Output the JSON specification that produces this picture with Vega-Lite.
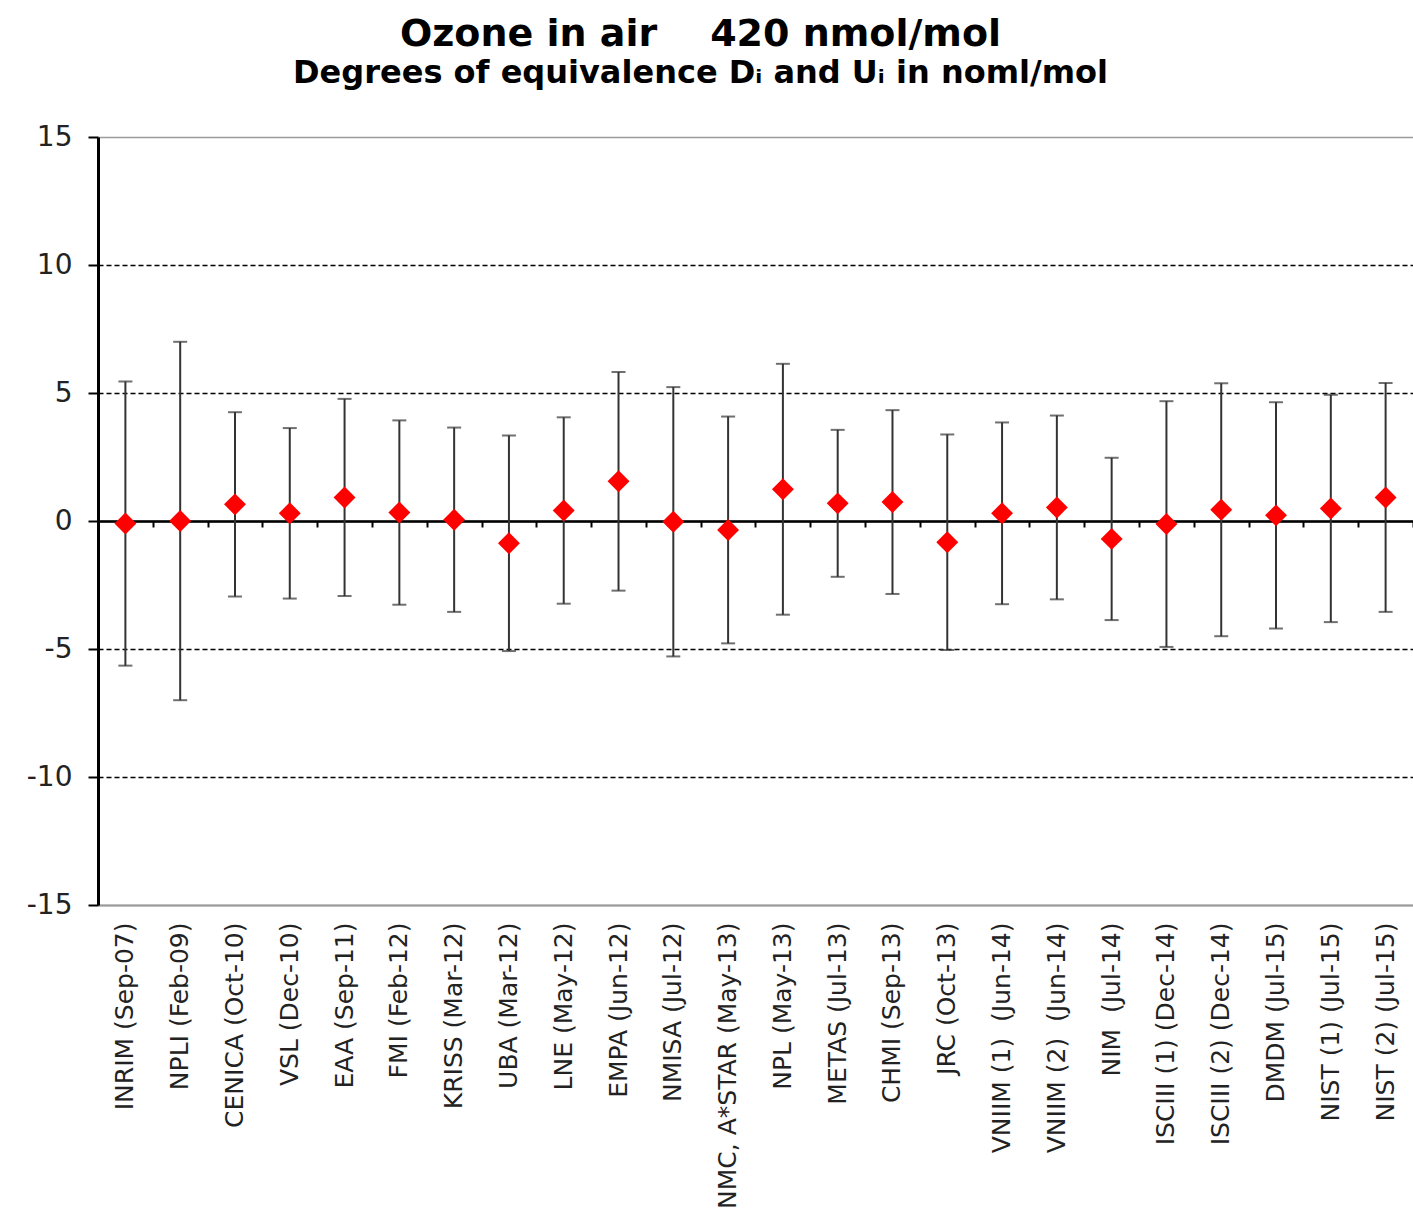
{
  "$schema": "https://vega.github.io/schema/vega-lite/v6.json",
  "autosize": {"type": "none"},
  "width": 1315,
  "height": 768,
  "padding": {"left": 98, "top": 137, "right": 0, "bottom": 325},
  "background": "white",
  "title": {
    "text": "Ozone in air\u00a0\u00a0\u00a0 420 nmol/mol",
    "subtitle": "Degrees of equivalence Dᵢ and Uᵢ in noml/mol",
    "anchor": "middle",
    "dx": -55,
    "offset": 34,
    "font": "DejaVu Sans",
    "fontSize": 38,
    "fontWeight": "bold",
    "color": "black",
    "subtitleFont": "DejaVu Sans",
    "subtitleFontSize": 32,
    "subtitleFontWeight": "bold",
    "subtitleColor": "black",
    "subtitlePadding": 4
  },
  "config": {
    "view": {"stroke": null},
    "axis": {"labelFont": "DejaVu Sans", "labelColor": "#222"}
  },
  "data": {
    "values": [
      {"lab": "INRIM (Sep-07)", "D": -0.1, "U": 5.55},
      {"lab": "NPLI (Feb-09)", "D": 0.0, "U": 7.0},
      {"lab": "CENICA (Oct-10)", "D": 0.65, "U": 3.6},
      {"lab": "VSL (Dec-10)", "D": 0.3, "U": 3.33},
      {"lab": "EAA (Sep-11)", "D": 0.92, "U": 3.85},
      {"lab": "FMI (Feb-12)", "D": 0.33, "U": 3.6},
      {"lab": "KRISS (Mar-12)", "D": 0.05, "U": 3.6},
      {"lab": "UBA (Mar-12)", "D": -0.87, "U": 4.21},
      {"lab": "LNE (May-12)", "D": 0.41, "U": 3.64},
      {"lab": "EMPA (Jun-12)", "D": 1.55, "U": 4.27},
      {"lab": "NMISA (Jul-12)", "D": -0.03, "U": 5.26},
      {"lab": "NMC, A*STAR (May-13)", "D": -0.35, "U": 4.43},
      {"lab": "NPL (May-13)", "D": 1.24, "U": 4.9},
      {"lab": "METAS (Jul-13)", "D": 0.69, "U": 2.87},
      {"lab": "CHMI (Sep-13)", "D": 0.74, "U": 3.59},
      {"lab": "JRC (Oct-13)", "D": -0.83, "U": 4.21},
      {"lab": "VNIIM (1)\u00a0 (Jun-14)", "D": 0.3, "U": 3.55},
      {"lab": "VNIIM (2)\u00a0 (Jun-14)", "D": 0.53, "U": 3.59},
      {"lab": "NIM\u00a0 (Jul-14)", "D": -0.7, "U": 3.17},
      {"lab": "ISCIII (1) (Dec-14)", "D": -0.12, "U": 4.8},
      {"lab": "ISCIII (2) (Dec-14)", "D": 0.44, "U": 4.94},
      {"lab": "DMDM (Jul-15)", "D": 0.22, "U": 4.42},
      {"lab": "NIST (1) (Jul-15)", "D": 0.49, "U": 4.44},
      {"lab": "NIST (2) (Jul-15)", "D": 0.92, "U": 4.47}
    ]
  },
  "layer": [
    {
      "mark": {
        "type": "errorbar",
        "color": "#333333",
        "thickness": 2,
        "ticks": {"size": 14, "thickness": 2, "color": "#333333"}
      },
      "encoding": {
        "x": {
          "field": "lab",
          "type": "nominal",
          "sort": null,
          "scale": {"type": "band", "paddingInner": 0, "paddingOuter": 0},
          "axis": {
            "title": null,
            "orient": "bottom",
            "labelAngle": 270,
            "labelFontSize": 25,
            "labelPadding": 17,
            "labelLimit": 500,
            "ticks": false,
            "domainColor": "#9a9a9a",
            "domainWidth": 2,
            "grid": false
          }
        },
        "y": {
          "field": "D",
          "type": "quantitative",
          "scale": {"domain": [-15, 15], "nice": false, "zero": false},
          "axis": {
            "title": null,
            "values": [-15, -10, -5, 0, 5, 10, 15],
            "labelExpr": "datum.value + ''",
            "labelFontSize": 28,
            "labelPadding": 16,
            "tickSize": 10,
            "tickWidth": 2,
            "tickColor": "black",
            "domainColor": "black",
            "domainWidth": 3,
            "grid": true,
            "gridColor": {"condition": {"test": "abs(datum.value) === 15", "value": "#9a9a9a"}, "value": "black"},
            "gridDash": {"condition": {"test": "abs(datum.value) === 15 || datum.value === 0", "value": []}, "value": [5, 3]},
            "gridWidth": 1.6
          }
        },
        "yError": {"field": "U"}
      }
    },
    {
      "mark": {"type": "point", "shape": "diamond", "filled": true, "color": "#ff0000", "size": 480, "opacity": 1},
      "encoding": {
        "x": {
          "field": "lab",
          "type": "nominal",
          "sort": null,
          "axis": {
            "title": null,
            "orient": "bottom",
            "offset": -384,
            "labels": false,
            "ticks": true,
            "tickBand": "extent",
            "tickSize": 6,
            "tickWidth": 2,
            "tickColor": "black",
            "domainColor": "black",
            "domainWidth": 2.5,
            "grid": false
          }
        },
        "y": {"field": "D", "type": "quantitative"}
      }
    }
  ],
  "resolve": {"axis": {"x": "independent"}}
}
